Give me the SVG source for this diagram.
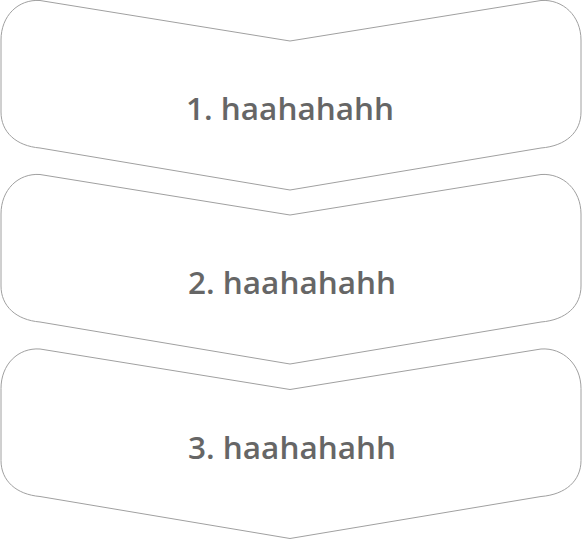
<svg xmlns="http://www.w3.org/2000/svg" width="582" height="541" viewBox="0 0 582 541">
<style>
.s{fill:#fff;stroke:#a0a0a0;stroke-width:1}
.t{font-family:"Open Sans","Noto Sans",sans-serif;font-weight:600;font-size:31.5px;fill:#666;text-anchor:middle}
</style>
<defs>
<path id="chev" d="M40,0.5 L290,41 L541,0.5 C563,-1 581,16 581,40 L581,112 C581,132 566,146 541,148 L290,190 L40,148 C16,146 1,132 1,112 L1,40 C1,16 18,-1 40,0.5 Z"/>
</defs>
<rect width="582" height="541" fill="#fff"/>
<g id="step1">
<use href="#chev" class="s"/>
<text class="t" x="290" y="120">1. haahahahh</text>
</g>
<g id="step2">
<use href="#chev" class="s" transform="translate(0,174)"/>
<text class="t" x="292" y="294">2. haahahahh</text>
</g>
<g id="step3">
<use href="#chev" class="s" transform="translate(0,348.5)"/>
<text class="t" x="292" y="459">3. haahahahh</text>
</g>
<g id="connectors"/>
</svg>
